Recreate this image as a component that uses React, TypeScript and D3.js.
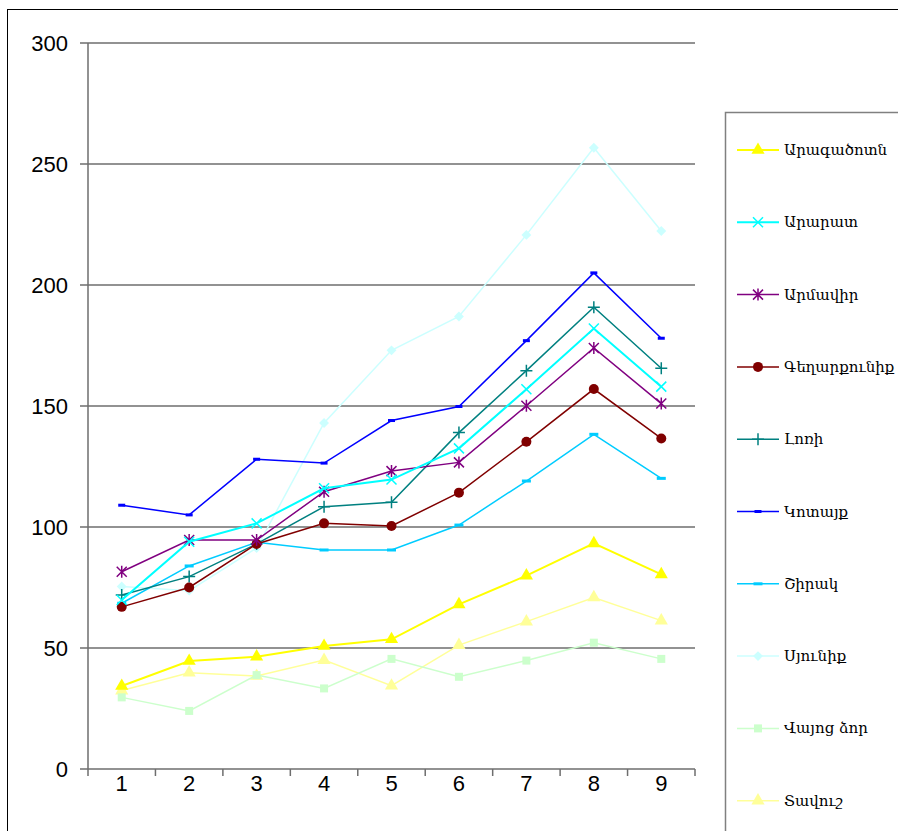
import * as d3 from 'd3'
import * as React from 'react'

//------------------------------data------------------------------
const categories = ['1', '2', '3', '4', '5', '6', '7', '8', '9']
const yTicks = [0, 50, 100, 150, 200, 250, 300]

const aragatsotn = [34.3, 44.6, 46.4, 50.8, 53.6, 68, 79.9, 93.2, 80.4]
const ararat = [69.8, 93.9, 101.5, 116, 119.6, 132.5, 156.9, 182, 158]
const armavir = [81.5, 94.6, 94.6, 114.6, 123.1, 126.7, 150.1, 174, 151]
const gegharkunik = [67, 75, 93, 101.5, 100.4, 114.2, 135.2, 157, 136.6]
const lori = [71.9, 79.5, 93, 108.4, 110.2, 139, 164.6, 190.8, 165.6]
const kotayk = [109, 105, 128, 126.4, 144, 149.8, 177, 205, 178]
const shirak = [68.5, 83.9, 93.7, 90.5, 90.5, 100.8, 119, 138.3, 120.1]
const syunik = [75.4, 73.7, 91.3, 143, 173, 187, 220.7, 256.7, 222.3]
const vayotsDzor = [29.6, 24, 38.8, 33.3, 45.5, 38.1, 44.8, 52.2, 45.5]
const tavush = [32.4, 39.8, 38.4, 45, 34.4, 51.2, 60.9, 70.9, 61.3]

type Marker = 'triangle' | 'x' | 'star' | 'circle' | 'plus' | 'dash' | 'wdash' | 'diamond' | 'square'
interface Series {
  name: string
  values: number[]
  color: string
  marker: Marker
  width: number
}

const series: Series[] = [
  { name: 'Արագածոտն', values: aragatsotn, color: '#FFFF00', marker: 'triangle', width: 2 },
  { name: 'Արարատ', values: ararat, color: '#00FFFF', marker: 'x', width: 2 },
  { name: 'Արմավիր', values: armavir, color: '#800080', marker: 'star', width: 1.5 },
  { name: 'Գեղարքունիք', values: gegharkunik, color: '#800000', marker: 'circle', width: 1.5 },
  { name: 'Լոռի', values: lori, color: '#008080', marker: 'plus', width: 1.5 },
  { name: 'Կոտայք', values: kotayk, color: '#0000FF', marker: 'dash', width: 1.5 },
  { name: 'Շիրակ', values: shirak, color: '#00CCFF', marker: 'wdash', width: 1.5 },
  { name: 'Սյունիք', values: syunik, color: '#CCFFFF', marker: 'diamond', width: 1.5 },
  { name: 'Վայոց ձոր', values: vayotsDzor, color: '#CCFFCC', marker: 'square', width: 1.5 },
  { name: 'Տավուշ', values: tavush, color: '#FFFF99', marker: 'triangle', width: 1.5 }
]

const WIDTH = 898
const HEIGHT = 831
const PLOT = { left: 88, right: 695, top: 43, bottom: 769 }
const GRID = '#6e6e6e'

//------------------------------marker------------------------------
const MarkerShape = ({ m, x, y, color }: { m: Marker; x: number; y: number; color: string }) => {
  switch (m) {
    case 'triangle':
      return <path d={d3.symbol(d3.symbolTriangle, 75)()!} transform={`translate(${x},${y})`} fill={color} />
    case 'circle':
      return <circle cx={x} cy={y} r={5} fill={color} />
    case 'square':
      return <rect x={x - 4} y={y - 4} width={8} height={8} fill={color} />
    case 'diamond':
      return <rect x={x - 3.5} y={y - 3.5} width={7} height={7} fill={color} transform={`rotate(45,${x},${y})`} />
    case 'dash':
      return <rect x={x - 3.5} y={y - 1.5} width={7} height={3} fill={color} />
    case 'wdash':
      return <rect x={x - 4.5} y={y - 1.5} width={9} height={3} fill={color} />
    case 'x':
      return (
        <path d={`M${x - 5},${y - 5}L${x + 5},${y + 5}M${x - 5},${y + 5}L${x + 5},${y - 5}`} stroke={color} strokeWidth={1.5} />
      )
    case 'plus':
      return <path d={`M${x - 6},${y}L${x + 6},${y}M${x},${y - 6}L${x},${y + 6}`} stroke={color} strokeWidth={1.5} />
    case 'star':
      return (
        <path
          d={`M${x - 5},${y - 5}L${x + 5},${y + 5}M${x - 5},${y + 5}L${x + 5},${y - 5}M${x},${y - 6}L${x},${y + 6}`}
          stroke={color}
          strokeWidth={1.5}
        />
      )
  }
  return null
}

//------------------------------Component------------------------------
export default function App() {
  const x = d3.scaleBand().domain(categories).range([PLOT.left, PLOT.right])
  const y = d3.scaleLinear().domain([0, 300]).range([PLOT.bottom, PLOT.top])
  const cx = (i: number) => (x(categories[i]) ?? 0) + x.bandwidth() / 2
  const line = d3
    .line<number>()
    .x((_, i) => cx(i))
    .y(d => y(d))

  const legendTop = 150
  const legendStep = 72.3

  return (
    <svg
      width={WIDTH}
      height={HEIGHT}
      style={{ position: 'absolute', left: 0, top: 0, background: '#fff' }}
    >
      <rect x={7.5} y={9.5} width={WIDTH} height={HEIGHT} fill="#fff" stroke="#000" strokeWidth={1} />
      {/* gridlines */}
      {yTicks.map(t => (
        <g key={t}>
          <line x1={80} x2={PLOT.right} y1={y(t)} y2={y(t)} stroke={GRID} strokeWidth={1.5} />
          <text
            x={68}
            y={y(t) + 8}
            textAnchor="end"
            fontFamily="Liberation Sans, Arial, sans-serif"
            fontSize={22}
            fill="#000"
          >
            {t}
          </text>
        </g>
      ))}
      <line x1={PLOT.left} x2={PLOT.left} y1={PLOT.top} y2={PLOT.bottom} stroke={GRID} strokeWidth={1.5} />
      {/* x ticks */}
      {[...categories.map(c => x(c) ?? 0), PLOT.right].map((v, i) => (
        <line key={i} x1={v} x2={v} y1={PLOT.bottom} y2={PLOT.bottom + 7} stroke={GRID} strokeWidth={1.5} />
      ))}
      {categories.map((c, i) => (
        <text
          key={c}
          x={cx(i)}
          y={791}
          textAnchor="middle"
          fontFamily="Liberation Sans, Arial, sans-serif"
          fontSize={22}
          fill="#000"
        >
          {c}
        </text>
      ))}
      {/* series, drawn back-to-front */}
      {[...series].reverse().map(s => (
        <g key={s.name}>
          <path d={line(s.values)!} fill="none" stroke={s.color} strokeWidth={s.width} />
          {s.values.map((v, i) => (
            <MarkerShape key={i} m={s.marker} x={cx(i)} y={y(v)} color={s.color} />
          ))}
        </g>
      ))}
      {/* legend */}
      <rect x={725.5} y={112.5} width={200} height={760} fill="#fff" stroke="#808080" strokeWidth={1.5} />
      {series.map((s, i) => {
        const ly = legendTop + i * legendStep
        return (
          <g key={s.name}>
            <line x1={737} x2={779} y1={ly} y2={ly} stroke={s.color} strokeWidth={s.width} />
            <MarkerShape m={s.marker} x={758} y={ly} color={s.color} />
            <text x={784} y={ly + 5} fontFamily="DejaVu Serif, serif" fontSize={15} fill="#000">
              {s.name}
            </text>
          </g>
        )
      })}
    </svg>
  )
}
